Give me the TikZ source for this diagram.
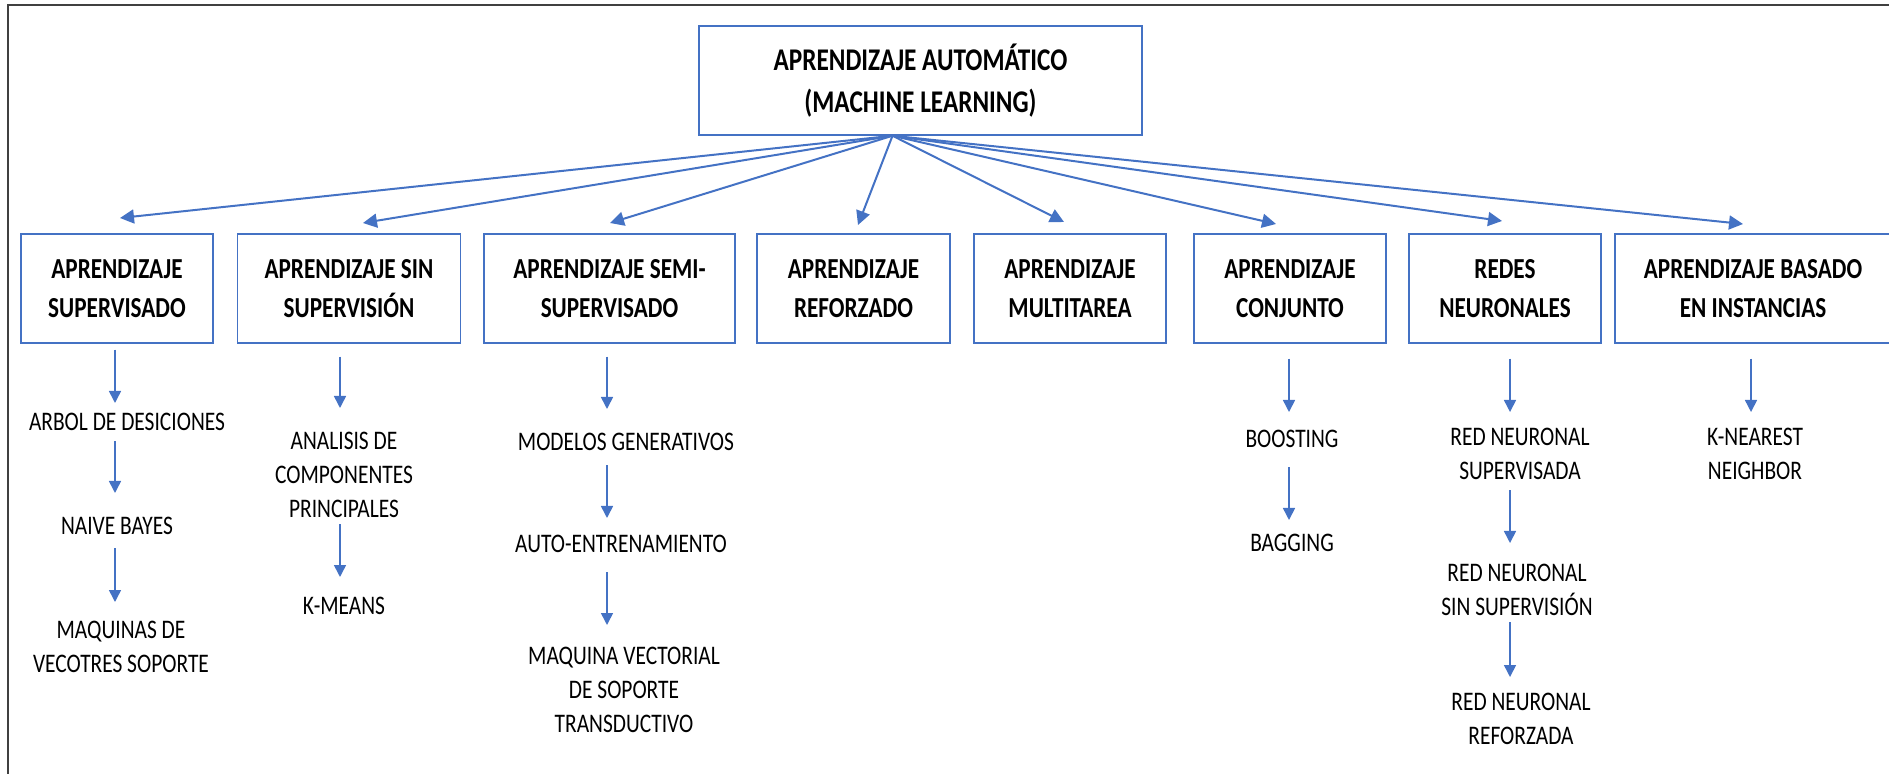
\documentclass[tikz,border=0pt]{standalone}
\usepackage{fontspec}
\setmainfont{Carlito}[FakeStretch=0.8]
\usetikzlibrary{arrows.meta}
\definecolor{lnblue}{HTML}{4472C4}
\definecolor{framegray}{HTML}{404040}
\begin{document}
\begin{tikzpicture}[x=0.5pt,y=-0.5pt,
  catbox/.style={draw=lnblue, line width=0.75pt, minimum height=54.5pt, inner sep=0pt, align=center,
    font=\fontsize{14.5}{19.5}\selectfont\bfseries},
  topbox/.style={draw=lnblue, line width=0.75pt, minimum height=54.5pt, inner sep=0pt, align=center,
    font=\fontsize{15.8}{20.8}\selectfont\bfseries},
  leaf/.style={inner sep=0pt, align=center, anchor=north, font=\fontsize{13.4}{17}\selectfont},
  arr/.style={draw=lnblue, line width=1pt, -{Triangle[length=7pt,width=7pt]}},
  varr/.style={draw=lnblue, line width=0.8pt, -{Triangle[length=6pt,width=6pt]}}
]
\useasboundingbox (0,0) rectangle (1889,774);
\clip (0,0) rectangle (1889,774);
\draw[framegray, line width=1.25pt] (8,780) -- (8,5) -- (1895,5);

\node[topbox, minimum width=221.5pt] (top) at (920.5,80.5) {APRENDIZAJE AUTOMÁTICO\\(MACHINE LEARNING)};

\node[catbox, minimum width=96pt] (b1) at (117,288.5) {APRENDIZAJE\\SUPERVISADO};
\node[catbox, minimum width=111.5pt] (b2) at (349,288.5) {APRENDIZAJE SIN\\SUPERVISIÓN};
\node[catbox, minimum width=125.5pt] (b3) at (609.5,288.5) {APRENDIZAJE SEMI-\\SUPERVISADO};
\node[catbox, minimum width=96.5pt] (b4) at (853.5,288.5) {APRENDIZAJE\\REFORZADO};
\node[catbox, minimum width=96pt] (b5) at (1070,288.5) {APRENDIZAJE\\MULTITAREA};
\node[catbox, minimum width=96pt] (b6) at (1290,288.5) {APRENDIZAJE\\CONJUNTO};
\node[catbox, minimum width=96pt] (b7) at (1505,288.5) {REDES\\NEURONALES};
\node[catbox, minimum width=138pt] (b8) at (1753,288.5) {APRENDIZAJE BASADO\\EN INSTANCIAS};

\coordinate (t1) at (120,218);
\coordinate (t2) at (363,223);
\coordinate (t3) at (610,223);
\coordinate (t4) at (858,225);
\coordinate (t5) at (1064,222);
\coordinate (t6) at (1276,224);
\coordinate (t7) at (1502,221);
\coordinate (t8) at (1743,224);
\foreach \t in {t1,t2,t3,t4,t5,t6,t7,t8}
  \draw[arr] ([xshift=-14pt]top.south) -- (\t);

\node[leaf] (l11) at (127,413) {ARBOL DE DESICIONES};
\node[leaf] (l12) at (117,517) {NAIVE BAYES};
\node[leaf] (l13) at (121,621) {MAQUINAS DE\\VECOTRES SOPORTE};
\node[leaf] (l21) at (344,432) {ANALISIS DE\\COMPONENTES\\PRINCIPALES};
\node[leaf] (l22) at (344,597) {K-MEANS};
\node[leaf] (l31) at (626,433) {MODELOS GENERATIVOS};
\node[leaf] (l32) at (621,535) {AUTO-ENTRENAMIENTO};
\node[leaf] (l33) at (624,647) {MAQUINA VECTORIAL\\DE SOPORTE\\TRANSDUCTIVO};
\node[leaf] (l61) at (1292,430) {BOOSTING};
\node[leaf] (l62) at (1292,534) {BAGGING};
\node[leaf] (l71) at (1520,428) {RED NEURONAL\\SUPERVISADA};
\node[leaf] (l72) at (1517,564) {RED NEURONAL\\SIN SUPERVISIÓN};
\node[leaf] (l73) at (1521,693) {RED NEURONAL\\REFORZADA};
\node[leaf] (l81) at (1755,428) {K-NEAREST\\NEIGHBOR};

\coordinate (c1) at (115,0);
\coordinate (c2) at (340,0);
\coordinate (c3) at (607,0);
\coordinate (c6) at (1289,0);
\coordinate (c7) at (1510,0);
\coordinate (c8) at (1751,0);

\draw[varr, shorten <=3pt, shorten >=5pt] (b1.south -| c1) -- (l11.north -| c1);
\draw[varr, shorten <=5pt, shorten >=12pt] (l11.south -| c1) -- (l12.north -| c1);
\draw[varr, shorten <=6.5pt, shorten >=9.5pt] (l12.south -| c1) -- (l13.north -| c1);
\draw[varr, shorten <=6.5pt, shorten >=12pt] (b2.south -| c2) -- (l21.north -| c2);
\draw[varr, shorten <=3pt, shorten >=10pt] (l21.south -| c2) -- (l22.north -| c2);
\draw[varr, shorten <=6.5pt, shorten >=12pt] (b3.south -| c3) -- (l31.north -| c3);
\draw[varr, shorten <=7pt, shorten >=8.5pt] (l31.south -| c3) -- (l32.north -| c3);
\draw[varr, shorten <=9.5pt, shorten >=11pt] (l32.south -| c3) -- (l33.north -| c3);
\draw[varr, shorten <=7.5pt, shorten >=9pt] (b6.south -| c6) -- (l61.north -| c6);
\draw[varr, shorten <=9.5pt, shorten >=7pt] (l61.south -| c6) -- (l62.north -| c6);
\draw[varr, shorten <=7.5pt, shorten >=8pt] (b7.south -| c7) -- (l71.north -| c7);
\draw[varr, shorten <=5pt, shorten >=10.5pt] (l71.south -| c7) -- (l72.north -| c7);
\draw[varr, shorten <=3pt, shorten >=8pt] (l72.south -| c7) -- (l73.north -| c7);
\draw[varr, shorten <=7.5pt, shorten >=8pt] (b8.south -| c8) -- (l81.north -| c8);
\end{tikzpicture}
\end{document}
